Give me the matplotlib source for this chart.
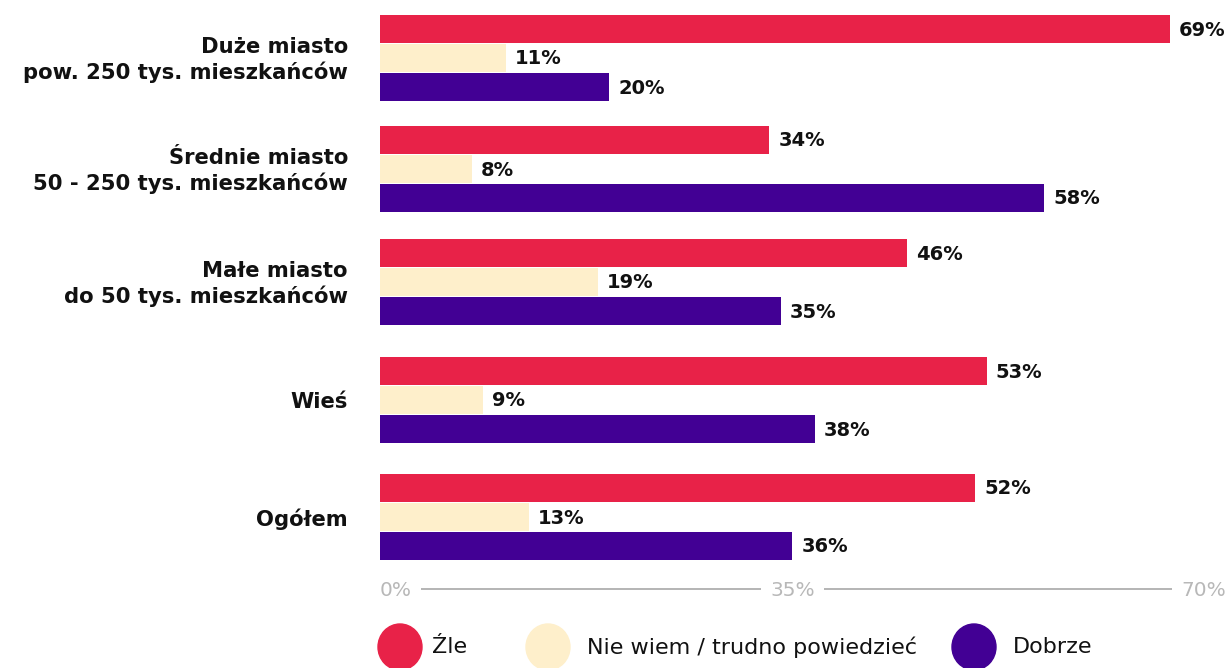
import matplotlib
matplotlib.use("Agg")
import matplotlib.pyplot as plt
from matplotlib.patches import Ellipse
from matplotlib.transforms import offset_copy

# Survey results by place of residence (percent)
categories = [
    "Duże miasto\npow. 250 tys. mieszkańców",
    "Średnie miasto\n50 - 250 tys. mieszkańców",
    "Małe miasto\ndo 50 tys. mieszkańców",
    "Wieś",
    "Ogółem",
]
series_names = ["Źle", "Nie wiem / trudno powiedzieć", "Dobrze"]
zle = [69, 34, 46, 53, 52]
nie_wiem = [11, 8, 19, 9, 13]
dobrze = [20, 58, 35, 38, 36]
x_ticks = [0, 35, 70]

colors = ["#E82248", "#FEEFCB", "#420094"]

W, H = 1227, 668
fig = plt.figure(figsize=(W / 100, H / 100), dpi=100)
fig.patch.set_facecolor("white")

# axes: x in percent, y in pixel rows from the top
ax = fig.add_axes([380 / W, 0, 801.5 / W, 1])
ax.set_xlim(0, 70)
ax.set_ylim(H, 0)
ax.axis("off")

group_y = [58, 169, 282, 400, 517]
bar_step = 29
bar_h = 27.5

for i, (vals, col) in enumerate(zip([zle, nie_wiem, dobrze], colors)):
    ys = [g + (i - 1) * bar_step for g in group_y]
    ax.barh(ys, vals, height=bar_h, color=col, left=0)
    off = offset_copy(ax.transData, fig=fig, x=9, y=0, units="dots")
    for y, v in zip(ys, vals):
        ax.text(v, y + 1, f"{v}%", transform=off, ha="left", va="center",
                fontsize=14, fontweight="bold", color="#111111",
                family="DejaVu Sans", clip_on=False)

# category labels
lab = offset_copy(ax.transData, fig=fig, x=-32, y=0, units="dots")
for g, c in zip(group_y, categories):
    ax.text(0, g + 2, c, transform=lab, ha="right", va="center",
            fontsize=15.2, fontweight="bold", family="DejaVu Sans",
            linespacing=1.25, color="#111111", clip_on=False)

# bottom scale line with inline tick labels
grid_y = 589
ax.plot([0, 69.6], [grid_y, grid_y], color="#a0a0a0", lw=1.1,
        clip_on=False, zorder=1)
tick_off = [16, 12, 22]
for t, dx in zip(x_ticks, tick_off):
    tr = offset_copy(ax.transData, fig=fig, x=dx, y=0, units="dots")
    ax.text(t, grid_y + 1, f"{t}%", transform=tr, ha="center", va="center",
            fontsize=14.5, color="#b8b8b8", family="DejaVu Sans",
            clip_on=False, zorder=3,
            bbox=dict(boxstyle="square,pad=0.45", fc="white", ec="none"))

# legend drawn in pixel coordinates
legend_x = [400, 548, 974]
legend_tx = [432, 587, 1013]
for cx, tx, col, name in zip(legend_x, legend_tx, colors, series_names):
    e = Ellipse((cx, H - 647), 44, 46, color=col, transform=None)
    fig.patches.append(e)
    fig.text(tx / W, 1 - 647 / H, name, ha="left", va="center",
             fontsize=16, family="DejaVu Sans", color="#111111")

fig.savefig("out.png", dpi=100, facecolor="white")
